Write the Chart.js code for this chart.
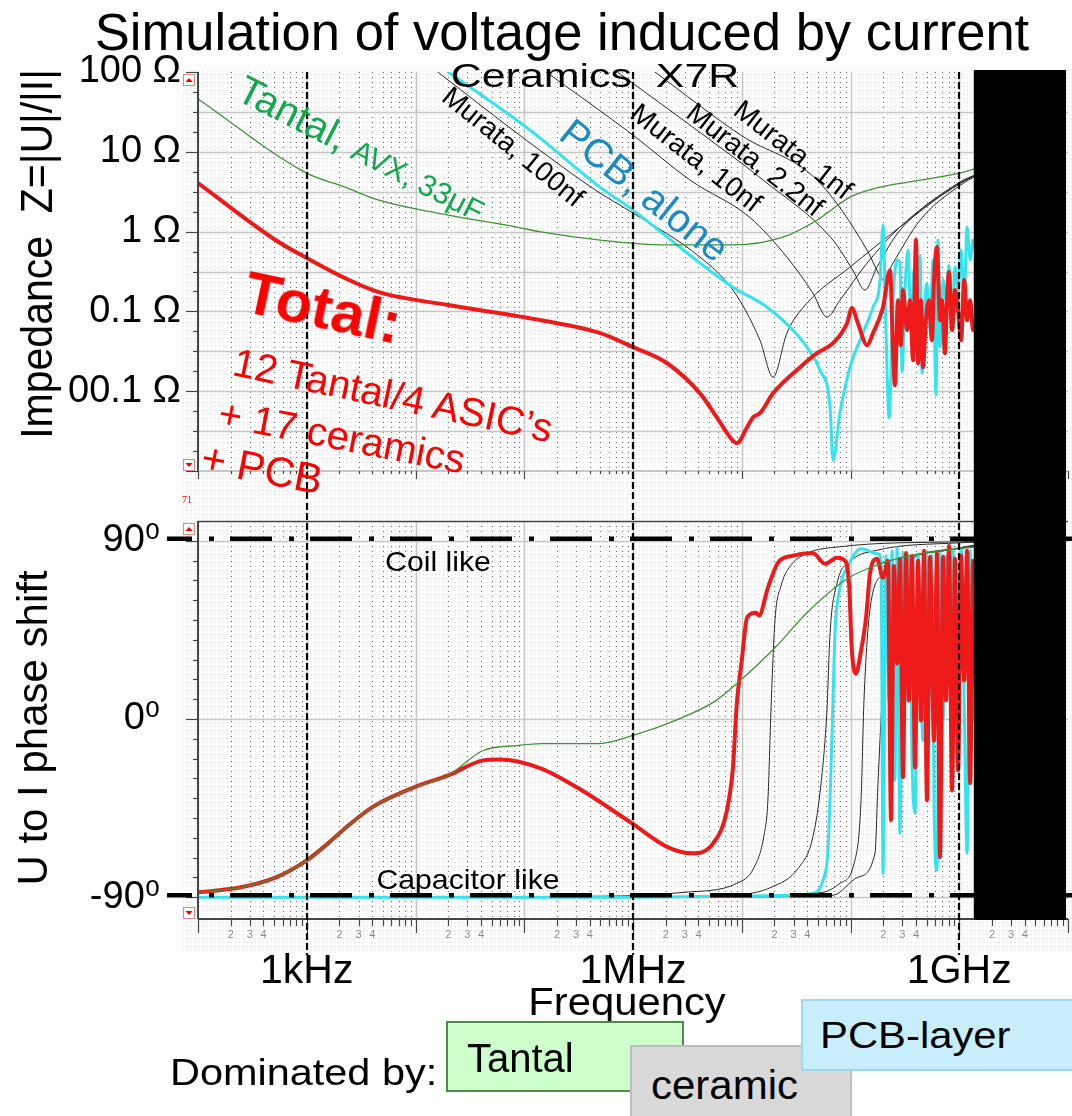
<!DOCTYPE html>
<html>
<head>
<meta charset="utf-8">
<title>Simulation of voltage induced by current</title>
<script src="https://cdn.jsdelivr.net/npm/chart.js@4.4.1/dist/chart.umd.min.js"></script>
<style>
  html, body { margin: 0; padding: 0; background: #fff; }
  body { position: relative; width: 1072px; height: 1116px; overflow: hidden;
         font-family: 'Liberation Sans', Arial, 'DejaVu Sans', sans-serif; color: #000; }
  canvas { position: absolute; left: 0; }
  #dots { position: absolute; left: 183px; top: 70px; width: 889px; height: 882px; }
  .t { position: absolute; white-space: pre; line-height: 1; transform: translate(-50%, -50%); }
  .l { position: absolute; white-space: pre; line-height: 1; transform-origin: 0 50%; }
  .box { position: absolute; box-sizing: border-box; border: 2px solid; }
  .red { color: #ff0000; }
</style>
</head>
<body>
<div id="dots"></div>
<canvas id="zChart" width="1072" height="500" style="top:0"></canvas>
<canvas id="phChart" width="1072" height="616" style="top:500px"></canvas>

<div class="t" style="left:562px;top:32px;font-size:51px;transform:translate(-50%,-50%) scaleX(1.03)">Simulation of voltage induced by current</div>
<div class="t" style="left:595px;top:75px;font-size:33px;transform:translate(-50%,-50%) scaleX(1.3)">Ceramics  X7R</div>
<div class="t" style="left:513px;top:147px;font-size:28px;transform:translate(-50%,-50%) rotate(39deg)">Murata, 100nf</div>
<div class="t" style="left:696px;top:158px;font-size:28px;transform:translate(-50%,-50%) rotate(38deg)">Murata, 10nf</div>
<div class="t" style="left:755px;top:160px;font-size:28px;transform:translate(-50%,-50%) rotate(38deg)">Murata, 2.2nf</div>
<div class="t" style="left:793px;top:150px;font-size:28px;transform:translate(-50%,-50%) rotate(38deg)">Murata, 1nf</div>
<div class="t" style="left:645px;top:190px;font-size:40px;color:#1a8cc4;transform:translate(-50%,-50%) rotate(38.5deg)">PCB, alone</div>
<div class="t" style="left:362px;top:148px;color:#10a84a;transform:translate(-50%,-50%) rotate(27deg)"><span style="font-size:40px">Tantal, </span><span style="font-size:30px">AVX, 33μF</span></div>
<div class="t red" style="left:323px;top:308px;font-size:60px;font-weight:bold;transform:translate(-50%,-50%) rotate(12deg)">Total:</div>
<div class="t red" style="left:393px;top:395px;font-size:40px;transform:translate(-50%,-50%) rotate(12deg)">12 Tantal/4 ASIC’s</div>
<div class="t red" style="left:342px;top:436px;font-size:40px;transform:translate(-50%,-50%) rotate(11deg)">+ 17 ceramics</div>
<div class="t red" style="left:262px;top:469px;font-size:42px;transform:translate(-50%,-50%) rotate(11deg)">+ PCB</div>
<div class="t red" style="left:187px;top:500px;font-size:10px;font-family:'Liberation Serif',serif">71</div>
<div class="t" style="left:438px;top:562px;font-size:28px;transform:translate(-50%,-50%) scaleX(1.08)">Coil like</div>
<div class="t" style="left:468px;top:880px;font-size:28px;transform:translate(-50%,-50%) scaleX(1.08)">Capacitor like</div>
<div class="t" style="left:37px;top:254px;font-size:41px;transform:translate(-50%,-50%) rotate(-90deg) scale(1,1.1)">Impedance  Z=|U|/|I|</div>
<div class="t" style="left:33px;top:728px;font-size:42px;transform:translate(-50%,-50%) rotate(-90deg)">U to I phase shift</div>
<div class="t" style="left:627px;top:1002px;font-size:38px;transform:translate(-50%,-50%) scaleX(1.1)">Frequency</div>
<div class="l" style="left:170px;top:1072px;font-size:37px;transform:translateY(-50%) scaleX(1.12)">Dominated by:</div>
<div class="box" style="left:446px;top:1021px;width:238px;height:71px;background:#ccffcc;border-color:#4e8a4e"></div>
<div class="l" style="left:467px;top:1058px;font-size:40px;transform:translateY(-50%)">Tantal</div>
<div class="box" style="left:630px;top:1045px;width:222px;height:80px;background:#d9d9d9;border-color:#bdbdbd"></div>
<div class="l" style="left:651px;top:1085px;font-size:40px;transform:translateY(-50%) scaleX(1.05)">ceramic</div>
<div class="box" style="left:801px;top:999px;width:290px;height:72px;background:#c8eefb;border-color:#9ad9f3"></div>
<div class="l" style="left:820px;top:1035px;font-size:37px;transform:translateY(-50%) scaleX(1.13)">PCB-layer</div>

<script>
// ---- impedance |Z| in ohm, frequency in Hz ----
var tantalFreq = [1e2, 1e3, 2.25e3, 4.6e3, 2e4, 8.6e4, 1.43e5, 5e5, 2.06e6, 8.3e6, 2.39e7, 4.92e7, 9.9e7, 1.87e8, 3.5e8, 1e9, 1.5e9];
var tantalZ    = [46, 5.4, 3.6, 2.48, 1.61, 1.14, 0.99, 0.78, 0.68, 0.68, 0.85, 1.39, 2.7, 3.6, 4.2, 5.4, 6.3];

var totalFreq = [1e2, 5.2e2, 1e3, 2.25e3, 4.6e3, 2e4, 1.43e5, 5e5, 1e6, 2.06e6, 4.13e6, 5.9e6, 7.8e6, 9e6,
  1.12e7, 1.27e7, 1.47e7, 1.94e7, 3.44e7, 4.92e7, 6.9e7, 9.3e7, 1.03e8, 1.17e8, 1.42e8, 1.61e8, 1.99e8, 2.31e8,
  2.46e8, 2.56e8, 2.73e8, 2.91e8, 3.04e8, 3.31e8, 3.52e8, 3.76e8, 4.0e8, 4.18e8, 4.45e8, 4.64e8, 4.94e8, 5.27e8,
  5.61e8, 5.86e8, 6.24e8, 6.65e8, 6.94e8, 7.39e8, 7.71e8, 8.05e8, 8.58e8, 9.14e8, 9.75e8, 1.04e9, 1.11e9, 1.18e9,
  1.26e9, 1.34e9, 1.43e9];
var totalZ = [4.06, 0.78, 0.466, 0.261, 0.174, 0.12, 0.0776, 0.0534, 0.0356, 0.0224, 0.0094, 0.0047, 0.00265, 0.00223,
  0.00354, 0.0047, 0.0053, 0.0094, 0.02, 0.03, 0.04, 0.071, 0.11, 0.071, 0.0377, 0.0534, 0.113, 0.329,
  0.0327, 0.0119, 0.138, 0.0377, 0.185, 0.0582, 0.138, 0.0245, 0.782, 0.0224, 0.138, 0.02, 0.0776, 0.138,
  0.0436, 0.247, 0.64, 0.0776, 0.138, 0.0299, 0.138, 0.31, 0.0582, 0.185, 0.104, 0.0436, 0.247, 0.0776,
  0.138, 0.0582, 0.0776];

var pcbFreq = [2e4, 1.13e5, 4.97e5, 1e6, 2.06e6, 4.13e6, 8.3e6, 1.71e7, 2.78e7, 3.98e7, 5.25e7, 6.48e7, 6.9e7, 8e7,
  9.9e7, 1.3e8, 1.61e8, 1.87e8, 1.99e8,
  2.12e8, 2.26e8, 2.46e8, 2.68e8, 2.85e8, 2.98e8, 3.17e8, 3.38e8, 3.6e8, 3.84e8, 4.09e8, 4.36e8, 4.54e8, 4.84e8,
  5.05e8, 5.38e8, 5.74e8, 6.11e8, 6.38e8, 6.65e8, 7.1e8, 7.55e8, 8.05e8, 8.58e8, 9.14e8, 9.75e8, 1.04e9, 1.11e9,
  1.18e9, 1.26e9, 1.34e9, 1.43e9];
var pcbZ = [100, 18.7, 3.61, 1.86, 0.853, 0.403, 0.201, 0.113, 0.0635, 0.0356, 0.0183, 0.0063, 0.00136, 0.0053,
  0.02, 0.0534, 0.113, 0.247, 1.21,
  0.0582, 0.00458, 0.138, 0.44, 0.403, 0.0173, 0.185, 0.586, 0.0582, 0.329, 0.138, 0.507, 0.0168, 0.138,
  0.226, 0.0582, 0.44, 0.009, 0.782, 0.0356, 0.247, 0.138, 0.38, 0.0776, 0.359, 0.185, 0.586, 0.138,
  1.14, 0.44, 0.782, 0.5];

var murata100nFreq = [1.6e4, 1.13e5, 4.97e5, 1e6, 4.13e6, 8.3e6, 1.47e7, 1.94e7, 2.6e7, 3.98e7, 9.9e7, 2.85e8, 1.02e9, 1.43e9];
var murata100nZ    = [100, 12.9, 3.04, 1.71, 0.479, 0.185, 0.0436, 0.015, 0.0534, 0.127, 0.359, 1.14, 4.1, 5.2];
var murata10nFreq  = [1.59e5, 1e6, 3.34e6, 1.19e7, 2.6e7, 4.52e7, 6.08e7, 8e7, 1.42e8, 2.85e8, 1.02e9, 1.43e9];
var murata10nZ     = [100, 16.2, 4.43, 1.5, 0.479, 0.169, 0.0848, 0.138, 0.403, 1.14, 4.2, 5.2];
var murata2n2Freq  = [7.2e5, 1e6, 4.13e6, 1.57e7, 6.9e7, 1.05e8, 1.36e8, 1.75e8, 2.85e8, 1.02e9, 1.43e9];
var murata2n2Z     = [100, 72, 17.5, 4.43, 0.782, 0.329, 0.185, 0.359, 1.04, 4.0, 5.1];
var murata1nFreq   = [1.59e6, 1e7, 4.92e7, 1.42e8, 1.79e8, 1.99e8, 2.46e8, 4.36e8, 1.02e9, 1.43e9];
var murata1nZ      = [100, 15.9, 4.43, 0.586, 0.31, 0.247, 0.403, 1.39, 3.8, 5.0];

// ---- phase U to I in degrees ----
var tantalPhFreq = [1e2, 2.48e2, 5.21e2, 1e3, 1.57e3, 2.25e3, 3.98e3, 9.7e3, 2e4, 4.18e4, 8.6e4, 1.43e5, 4.87e5, 1e6,
  2.43e6, 5.8e6, 9e6, 2.02e7, 3.9e7, 9.3e7, 1.68e8, 3.45e8, 1e9, 1.5e9];
var tantalPh = [-87.5, -85, -80, -71.4, -62.8, -55.2, -44.6, -34.5, -28.5, -15.9, -13.4, -12.4, -12.4, -8.3,
  -0.8, 9.3, 17.9, 36, 53.2, 70.8, 77.4, 82.4, 86, 87];

var totalPhFreq = [1e2, 2.48e2, 5.21e2, 1e3, 1.57e3, 2.25e3, 3.98e3, 9.7e3, 2e4, 4.18e4, 5.98e4, 1.43e5, 3.4e5, 9.8e5,
  2.1e6, 3.49e6, 5.45e6, 7.3e6, 8.3e6, 9e6, 1e7, 1.12e7, 1.35e7, 1.44e7, 1.74e7, 2.15e7, 2.9e7, 4.5e7, 5.83e7,
  7.5e7, 8.7e7, 9.7e7, 1.03e8, 1.12e8, 1.25e8, 1.39e8, 1.51e8, 1.75e8, 1.99e8,
  2.21e8, 2.36e8, 2.51e8, 2.68e8, 2.85e8, 3.04e8, 3.24e8, 3.45e8, 3.68e8, 3.92e8, 4.18e8, 4.45e8, 4.74e8, 5.05e8,
  5.38e8, 5.86e8, 6.24e8, 6.65e8, 7.1e8, 7.55e8, 8.05e8, 8.58e8, 9.14e8, 9.75e8, 1.04e9, 1.11e9, 1.18e9, 1.26e9,
  1.34e9, 1.43e9];
var totalPh = [-87.5, -85, -80, -71.4, -62.8, -55.2, -44.6, -34.5, -28.5, -20.9, -20.4, -25, -36.1, -52.7,
  -64.8, -67.8, -62.8, -46.2, -24.5, 7.5, 29.5, 51.2, 53.7, 52.2, 66.3, 78.9, 82.4, 83.9, 78.4,
  81.4, 80.4, 68.3, 34.5, 22.9, 34.5, 51.2, 73.4, 80.9, 71.3,
  79.9, -51.2, 77.4, 28, 80.9, -29.5, 83.9, 9.3, 82.4, -24.5, 79.9, -0.8, 85, -41.1,
  81.9, -10.9, 83.9, -69.9, 81.9, 9.3, 87.5, -36.1, 80.9, -26, 82.4, 19.4, 85, -32.5,
  79.9, 9.3];

var pcbPhFreq = [1e2, 1e6, 1e7, 3e7, 4.5e7, 5.58e7, 6.2e7, 6.62e7, 6.9e7, 7.2e7, 8e7, 9.3e7, 1.25e8, 1.79e8,
  1.91e8, 1.99e8, 2.12e8, 2.26e8, 2.41e8, 2.56e8, 2.68e8, 2.85e8, 3.04e8, 3.24e8, 3.45e8, 3.68e8, 3.92e8, 4.18e8,
  4.45e8, 4.64e8, 4.94e8, 5.27e8, 5.61e8, 5.86e8, 6.24e8, 6.65e8, 7.1e8, 7.55e8, 8.22e8, 8.77e8, 9.33e8, 9.75e8,
  1.04e9, 1.11e9, 1.18e9, 1.26e9, 1.34e9, 1.43e9];
var pcbPh = [-90, -90, -89.5, -89, -88, -81.5, -66.3, -24.5, 9.3, 43.1, 66.3, 76.4, 86, 83.4,
  79.9, -77.9, 82.4, 9.3, 85, -31, 86.5, -57.8, 83.9, 9.3, 82.4, -20.9, -47.7, 83.4,
  14.4, -10.9, 85, 9.3, 82.4, -41.1, -76.4, 83.9, -0.8, 82.4, 41.1, 86, -20.9, 33,
  86, 9.3, -67.8, 85, -0.8, 59.7];

var murata100nPhFreq = [1e2, 4.9e5, 3e6, 9e6, 1.3e7, 1.6e7, 1.74e7, 1.86e7, 2.02e7, 2.3e7, 2.72e7, 3.9e7, 8e7, 1e9, 1.5e9];
var murata100nPh     = [-90, -89.5, -87.5, -83, -74.9, -58.8, -41, 5.8, 49.7, 67.3, 76.4, 83.4, 87, 89.5, 89.6];
var murata10nPhFreq  = [1e2, 1e6, 1e7, 1.86e7, 3.36e7, 4.5e7, 5.36e7, 6.08e7, 6.48e7, 7.5e7, 1.01e8, 1.68e8, 1e9, 1.5e9];
var murata10nPh      = [-90, -89.8, -88.5, -85, -74.9, -59.8, -32.5, 5, 43.1, 68.3, 79.9, 85, 89, 89.3];
var murata2n2PhFreq  = [1e2, 1e7, 5.58e7, 8e7, 1.08e8, 1.25e8, 1.33e8, 1.55e8, 2.07e8, 3.45e8, 1.04e9, 1.5e9];
var murata2n2Ph      = [-90, -89.6, -87.5, -83, -72.9, -41.1, 9.3, 59.7, 73.4, 81.4, 86.5, 87.5];
var murata1nPhFreq   = [1e2, 1e7, 6.9e7, 1.17e8, 1.68e8, 1.79e8, 1.95e8, 2.26e8, 2.98e8, 7.25e8, 1.28e9, 1.5e9];
var murata1nPh       = [-90, -89.8, -89, -79.9, -67.8, -32.5, 9.3, 54.7, 76.4, 85, 87.5, 88];

// ---- axes ----
var freqMin = 1e2, freqMax = 1e10;
var decadeExponents = [2, 3, 4, 5, 6, 7, 8, 9];
var minorLabelMantissas = [2, 3, 4];
var freqTickValues = [1e3, 1e6, 1e9];
var freqTickLabels = ['1kHz', '1MHz', '1GHz'];
var zTickValues = [0.01, 0.1, 1, 10, 100];
var zTickLabels = ['00.1 Ω', '0.1 Ω', '1 Ω', '10 Ω', '100 Ω'];
var phaseTickValues = [-90, 0, 90];
var phaseTickLabels = ['-90⁰', '0⁰', '90⁰'];

var FONT = "'Liberation Sans', Arial, 'DejaVu Sans', sans-serif";
var RED = '#ee1a1a', CYAN = '#33e4ee', GREEN = '#3f9135', DARK = '#262626';

// dotted plot background
(function() {
  var pc = document.createElement('canvas');
  pc.width = 4; pc.height = 4;
  var p = pc.getContext('2d');
  p.fillStyle = '#d3e5dd';
  p.fillRect(0, 0, 1, 1);
  document.getElementById('dots').style.backgroundImage = 'url(' + pc.toDataURL() + ')';
})();

function series(freq, vals) {
  return freq.map(function(f, i) { return { x: f, y: vals[i] }; });
}

function line(label, freq, vals, color, width, order) {
  return {
    label: label, data: series(freq, vals), borderColor: color, backgroundColor: color,
    borderWidth: width, pointRadius: 0, fill: false, cubicInterpolationMode: 'monotone', order: order
  };
}

function fixY(w) {
  return function(s) { s.width = w; s.paddingTop = 0; s.paddingBottom = 0; };
}
function fixX(h) {
  return function(s) { s.height = h; s.paddingLeft = 0; s.paddingRight = 0; };
}

function vLine(ctx, px, y0, y1) {
  ctx.beginPath(); ctx.moveTo(px, y0); ctx.lineTo(px, y1); ctx.stroke();
}
function hLine(ctx, py, x0, x1) {
  ctx.beginPath(); ctx.moveTo(x0, py); ctx.lineTo(x1, py); ctx.stroke();
}

function marker(ctx, x, y, up) {
  ctx.save();
  ctx.fillStyle = '#fff'; ctx.strokeStyle = '#d88'; ctx.lineWidth = 1;
  ctx.fillRect(x, y, 12, 12); ctx.strokeRect(x + 0.5, y + 0.5, 11, 11);
  ctx.fillStyle = '#e00';
  ctx.beginPath();
  if (up) { ctx.moveTo(x + 2.5, y + 8); ctx.lineTo(x + 9.5, y + 8); ctx.lineTo(x + 6, y + 4); }
  else { ctx.moveTo(x + 2.5, y + 4); ctx.lineTo(x + 9.5, y + 4); ctx.lineTo(x + 6, y + 8); }
  ctx.fill();
  ctx.restore();
}

// grid, borders, dashed markers and the black cover, drawn from the chart's own scales
function panelPlugin(kind) {
  return {
    id: 'panel_' + kind,
    beforeDatasetsDraw: function(chart) {
      var ctx = chart.ctx, a = chart.chartArea, x = chart.scales.x, y = chart.scales.y;
      ctx.save();
      decadeExponents.forEach(function(e) {
        for (var k = 1; k < 10; k++) {
          if (e === 2 && k === 1) continue;
          var px = Math.round(x.getPixelForValue(k * Math.pow(10, e))) + 0.5;
          if (k === 1) { ctx.strokeStyle = '#c6c6c6'; ctx.lineWidth = 1.5; ctx.setLineDash([]); }
          else { ctx.strokeStyle = '#666'; ctx.lineWidth = 1; ctx.setLineDash([1, 4]); }
          vLine(ctx, px, a.top, a.bottom);
        }
      });
      ctx.setLineDash([]);
      ctx.strokeStyle = '#c6c6c6'; ctx.lineWidth = 1.5;
      var hvals = [];
      if (kind === 'z') { for (var n = -5; n <= 3; n++) hvals.push(Math.pow(10, n / 2)); }
      else hvals = [-90, 0, 90];
      hvals.forEach(function(v) { hLine(ctx, Math.round(y.getPixelForValue(v)) + 0.5, a.left, a.right); });
      ctx.restore();
    },
    afterDatasetsDraw: function(chart) {
      var ctx = chart.ctx, a = chart.chartArea, x = chart.scales.x, y = chart.scales.y;
      ctx.save();
      // left axis line and ticks
      ctx.strokeStyle = '#444'; ctx.lineWidth = 2;
      vLine(ctx, a.left, a.top, a.bottom);
      ctx.lineWidth = 1.2;
      if (kind === 'z') {
        for (var q = -12; q <= 8; q++) {
          var py = Math.round(y.getPixelForValue(Math.pow(10, q / 4))) + 0.5;
          hLine(ctx, py, a.left - (q % 4 === 0 ? 12 : 5), a.left);
        }
      } else {
        for (var d = -90; d <= 90; d += 10) {
          var py2 = Math.round(y.getPixelForValue(d)) + 0.5;
          hLine(ctx, py2, a.left - (d % 90 === 0 ? 12 : 5), a.left);
        }
      }
      // bottom axis line and ticks
      ctx.strokeStyle = kind === 'z' ? '#b5b5b5' : '#444';
      ctx.lineWidth = kind === 'z' ? 1.5 : 2;
      hLine(ctx, a.bottom, a.left, a.right);
      ctx.strokeStyle = '#444'; ctx.lineWidth = 1.2;
      decadeExponents.concat([10]).forEach(function(e) {
        for (var k = 1; k < 10; k++) {
          var v = k * Math.pow(10, e);
          if (v > freqMax) break;
          var px = Math.round(x.getPixelForValue(v)) + 0.5;
          var len = kind === 'z' ? (k === 1 ? 8 : 3) : (k === 1 ? 14 : 7);
          vLine(ctx, px, a.bottom, a.bottom + len);
        }
      });
      if (kind === 'ph') {
        ctx.lineWidth = 1.5; hLine(ctx, a.top + 0.5, a.left, a.right);
        // coil / capacitor limits
        ctx.strokeStyle = '#000'; ctx.lineWidth = 4.5;
        ctx.setLineDash([42, 17, 5, 16]); ctx.lineDashOffset = 17;
        [90, -90].forEach(function(v) { hLine(ctx, y.getPixelForValue(v) - 2, a.left - 31, chart.width); });
        ctx.setLineDash([]);
      }
      // decade markers 1kHz / 1MHz / 1GHz
      ctx.strokeStyle = '#000'; ctx.lineWidth = 2.2; ctx.setLineDash([7, 3]);
      freqTickValues.forEach(function(v) {
        var px = Math.round(x.getPixelForValue(v));
        if (kind === 'z') vLine(ctx, px, a.top, chart.height);
        else vLine(ctx, px, 0, a.bottom + 36);
      });
      ctx.setLineDash([]);
      // black cover on the right
      var bx = x.getPixelForValue(1.36e9);
      ctx.fillStyle = '#000';
      if (kind === 'z') ctx.fillRect(bx, a.top - 2, a.right - 2 - bx, chart.height - a.top + 2);
      else ctx.fillRect(bx, 0, a.right - 2 - bx, a.bottom + 1);
      ctx.restore();
      marker(ctx, a.left - 15, a.top + 2, true);
      marker(ctx, a.left - 15, a.bottom - 12, false);
    }
  };
}

var common = {
  responsive: false, animation: false, devicePixelRatio: 1,
  plugins: { legend: { display: false }, tooltip: { enabled: false } },
  elements: { line: { borderJoinStyle: 'round', borderCapStyle: 'round' } }
};

function tickList(values) {
  return function(s) { s.ticks = values.map(function(v) { return { value: v }; }); };
}

var minorTickValues = [];
decadeExponents.forEach(function(e) {
  minorLabelMantissas.forEach(function(m) { minorTickValues.push(m * Math.pow(10, e)); });
});

new Chart(document.getElementById('zChart'), {
  type: 'line',
  data: {
    datasets: [
      line('Murata, 100nf', murata100nFreq, murata100nZ, DARK, 1, 5),
      line('Murata, 10nf', murata10nFreq, murata10nZ, DARK, 1, 5),
      line('Murata, 2.2nf', murata2n2Freq, murata2n2Z, DARK, 1, 5),
      line('Murata, 1nf', murata1nFreq, murata1nZ, DARK, 1, 5),
      line('PCB, alone', pcbFreq, pcbZ, CYAN, 3, 3),
      line('Total', totalFreq, totalZ, RED, 4, 2),
      line('Tantal, AVX, 33µF', tantalFreq, tantalZ, GREEN, 1.3, 1)
    ]
  },
  options: Object.assign({}, common, {
    layout: { padding: { left: 0, right: 4, top: 72, bottom: 0 } },
    scales: {
      x: {
        type: 'logarithmic', min: freqMin, max: freqMax,
        grid: { display: false, drawTicks: false }, border: { display: false },
        ticks: { display: false }, afterFit: fixX(29)
      },
      y: {
        type: 'logarithmic', min: 0.001, max: 100,
        grid: { display: false, drawTicks: false }, border: { display: false },
        afterBuildTicks: tickList(zTickValues),
        ticks: {
          color: '#000', padding: 17, autoSkip: false, font: { family: FONT, size: 38 },
          callback: function(v) { return zTickLabels[zTickValues.indexOf(v)]; }
        },
        afterFit: fixY(198)
      }
    }
  }),
  plugins: [panelPlugin('z')]
});

new Chart(document.getElementById('phChart'), {
  type: 'line',
  data: {
    datasets: [
      line('Murata, 100nf', murata100nPhFreq, murata100nPh, DARK, 1, 5),
      line('Murata, 10nf', murata10nPhFreq, murata10nPh, DARK, 1, 5),
      line('Murata, 2.2nf', murata2n2PhFreq, murata2n2Ph, DARK, 1, 5),
      line('Murata, 1nf', murata1nPhFreq, murata1nPh, DARK, 1, 5),
      line('PCB, alone', pcbPhFreq, pcbPh, CYAN, 3, 3),
      line('Total', totalPhFreq, totalPh, RED, 4, 2),
      line('Tantal, AVX, 33µF', tantalPhFreq, tantalPh, GREEN, 1.3, 1)
    ]
  },
  options: Object.assign({}, common, {
    layout: { padding: { left: 0, right: 4, top: 21, bottom: 0 } },
    scales: {
      x: {
        type: 'logarithmic', min: freqMin, max: freqMax, position: 'bottom', weight: 0,
        grid: { display: false, drawTicks: false }, border: { display: false },
        afterBuildTicks: tickList(minorTickValues),
        ticks: {
          color: '#8a8a8a', padding: 9, autoSkip: false, maxRotation: 0, minRotation: 0,
          font: { family: FONT, size: 11 },
          callback: function(v) { return String(Math.round(v / Math.pow(10, Math.floor(Math.log10(v) + 1e-9)))); }
        },
        afterFit: fixX(28)
      },
      x2: {
        type: 'logarithmic', min: freqMin, max: freqMax, position: 'bottom', weight: 1,
        grid: { display: false, drawTicks: false }, border: { display: false },
        afterBuildTicks: tickList(freqTickValues),
        ticks: {
          color: '#000', padding: 0, autoSkip: false, maxRotation: 0, minRotation: 0,
          font: { family: FONT, size: 41 },
          callback: function(v) { return freqTickLabels[freqTickValues.indexOf(v)]; }
        },
        afterFit: fixX(169)
      },
      y: {
        type: 'linear', min: -101, max: 100,
        grid: { display: false, drawTicks: false }, border: { display: false },
        afterBuildTicks: tickList(phaseTickValues),
        ticks: {
          color: '#000', padding: 38, autoSkip: false, font: { family: FONT, size: 38 },
          callback: function(v) { return phaseTickLabels[phaseTickValues.indexOf(v)]; }
        },
        afterFit: fixY(198)
      }
    }
  }),
  plugins: [panelPlugin('ph')]
});
</script>
</body>
</html>
